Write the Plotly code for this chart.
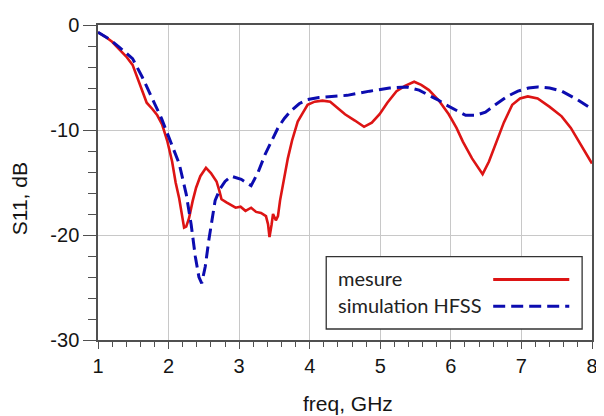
import plotly.graph_objects as go

# measured S11 (red)
meas_freq = [1.0, 1.1, 1.2, 1.3, 1.4, 1.49, 1.55, 1.62, 1.69, 1.77, 1.84, 1.91, 1.98, 2.05,
             2.1, 2.15, 2.19, 2.22, 2.25, 2.29, 2.34, 2.39, 2.45, 2.53, 2.6, 2.68, 2.72, 2.75,
             2.82, 2.89, 2.95, 3.02, 3.09, 3.17, 3.24, 3.31, 3.38, 3.41, 3.43, 3.46, 3.48,
             3.52, 3.55, 3.58, 3.63, 3.69, 3.75, 3.83, 3.9, 3.97, 4.07, 4.18, 4.29, 4.39,
             4.5, 4.64, 4.77, 4.88, 4.99, 5.1, 5.23, 5.35, 5.48, 5.58, 5.69, 5.83, 5.97,
             6.08, 6.17, 6.3, 6.45, 6.54, 6.63, 6.75, 6.87, 6.98, 7.09, 7.23, 7.4, 7.57,
             7.7, 7.79, 7.9, 8.0]
meas_s11 = [-0.7, -1.1, -1.6, -2.3, -3.0, -3.8, -4.9, -6.2, -7.4, -8.0, -8.6, -9.5, -11.0, -13.0,
            -15.0, -16.5, -18.3, -19.3, -19.2, -18.4, -16.8, -15.5, -14.4, -13.6, -14.1, -14.9,
            -15.8, -16.6, -16.9, -17.2, -17.4, -17.3, -17.7, -17.4, -17.8, -17.9, -18.2, -19.0,
            -20.2, -19.0, -18.0, -18.6, -18.2, -16.7, -14.8, -12.7, -11.0, -9.2, -8.4, -7.6,
            -7.3, -7.2, -7.3, -7.9, -8.5, -9.1, -9.7, -9.3, -8.5, -7.4, -6.3, -5.8, -5.4,
            -5.7, -6.2, -7.2, -8.5, -9.8, -11.1, -12.7, -14.2, -13.0, -11.4, -9.3, -7.6,
            -7.0, -6.8, -7.0, -7.8, -8.7, -9.8, -10.8, -12.0, -13.2]

# HFSS simulation (blue dashed)
sim_freq = [1.0, 1.15, 1.3, 1.49, 1.63, 1.77, 1.9, 2.01, 2.15, 2.25, 2.32, 2.38, 2.43, 2.47,
            2.52, 2.57, 2.66, 2.73, 2.8, 2.89, 3.03, 3.17, 3.27, 3.37, 3.46, 3.55, 3.64,
            3.73, 3.85, 3.97, 4.13, 4.29, 4.53, 4.85, 5.13, 5.37, 5.55, 5.69, 5.81, 5.93,
            6.07, 6.21, 6.35, 6.49, 6.63, 6.8, 6.95, 7.1, 7.23, 7.4, 7.57, 7.79, 8.0]
sim_s11 = [-0.7, -1.3, -2.1, -3.2, -5.0, -7.0, -8.9, -10.8, -13.2, -16.1, -19.0, -22.1, -24.0,
           -24.6, -23.0, -20.5, -16.7, -15.6, -14.9, -14.4, -14.7, -15.3, -14.0, -12.3, -11.0,
           -9.8, -8.9, -8.2, -7.5, -7.1, -6.9, -6.8, -6.7, -6.3, -6.0, -5.9, -6.2, -6.7,
           -7.1, -7.6, -8.1, -8.6, -8.6, -8.3, -7.6, -6.8, -6.3, -6.0, -5.9, -6.0, -6.3,
           -7.1, -8.0]

x_ticks = [1, 2, 3, 4, 5, 6, 7, 8]
y_ticks = [0, -10, -20, -30]
y_labels = ["0", "-10", "-20", "-30"]

RED = "#dd1414"
BLUE = "#0c0cb0"
AXIS = "#505050"
TXT = "#151515"

fig = go.Figure()
fig.add_trace(go.Scatter(x=meas_freq, y=meas_s11, mode="lines", name="mesure",
                         line=dict(color=RED, width=2.6)))
fig.add_trace(go.Scatter(x=sim_freq, y=sim_s11, mode="lines", name="simulation HFSS",
                         line=dict(color=BLUE, width=3, dash="12px,6px")))

tick_font = dict(family="Arial", size=20, color=TXT)

fig.update_xaxes(range=[1, 8], tickvals=x_ticks, ticks="outside", ticklen=7, tickwidth=1.3,
                 tickcolor=AXIS, showline=True, linecolor=AXIS, linewidth=1.5, mirror=True,
                 showgrid=True, gridcolor="#c8c8c8", gridwidth=1, zeroline=False,
                 tickfont=tick_font,
                 minor=dict(dtick=0.2, ticks="outside", ticklen=5, tickcolor=AXIS, showgrid=False))
fig.update_yaxes(range=[-30, 0], tickvals=y_ticks, ticktext=y_labels, ticks="outside",
                 ticklen=13, tickwidth=1.3, tickcolor=AXIS, showline=True, linecolor=AXIS,
                 linewidth=1.5, mirror=True, showgrid=True, gridcolor="#c8c8c8", gridwidth=1,
                 zeroline=False, tickfont=tick_font,
                 minor=dict(dtick=2, ticks="outside", ticklen=8, tickcolor=AXIS, showgrid=False))

# axis titles
fig.add_annotation(text="freq, GHz", xref="paper", yref="paper", x=0.506, y=-0.2,
                   yanchor="middle", showarrow=False,
                   font=dict(family="Arial", size=21, color=TXT))
fig.add_annotation(text="S11, dB", xref="paper", yref="paper", x=-0.16, y=0.45,
                   textangle=-90, xanchor="center", yanchor="middle", showarrow=False,
                   font=dict(family="Arial", size=21, color=TXT))

# legend box drawn by hand (text left, line sample right)
fig.add_shape(type="rect", xref="paper", yref="paper", x0=0.462, x1=0.98, y0=0.035, y1=0.265,
              line=dict(color="#333", width=1.3), fillcolor="white", layer="above")
leg_font = dict(family="Lato, Open Sans", size=20, color="#222")
fig.add_annotation(text="mesure", xref="paper", yref="paper", x=0.482, y=0.196,
                   xanchor="left", yanchor="middle", showarrow=False, font=leg_font)
fig.add_annotation(text="simulation HFSS", xref="paper", yref="paper", x=0.482, y=0.112,
                   xanchor="left", yanchor="middle", showarrow=False, font=leg_font)
fig.add_shape(type="line", xref="paper", yref="paper", x0=0.8, x1=0.954, y0=0.192, y1=0.192,
              line=dict(color=RED, width=3), layer="above")
fig.add_shape(type="line", xref="paper", yref="paper", x0=0.8, x1=0.954, y0=0.107, y1=0.107,
              line=dict(color=BLUE, width=3, dash="12px,6px"), layer="above")

# page body has an 8px margin, so the figure is 8px smaller than the window
fig.update_layout(width=596, height=408, margin=dict(l=90, r=6, t=15, b=76),
                  plot_bgcolor="white", paper_bgcolor="white", showlegend=False)

fig.write_html("out.html")
